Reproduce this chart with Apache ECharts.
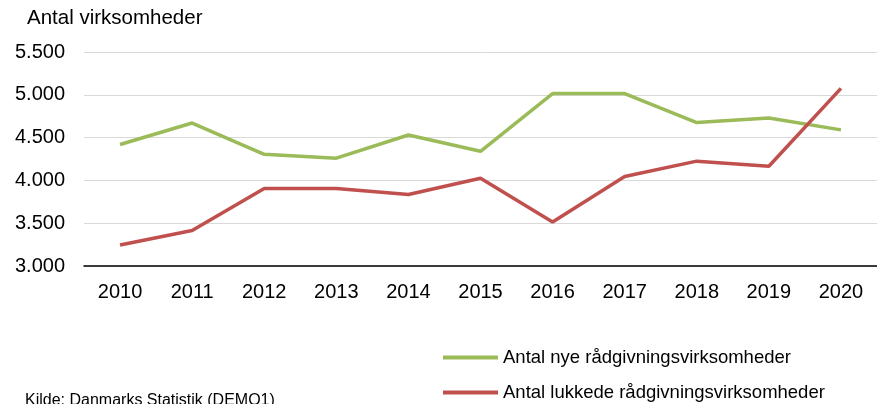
<!DOCTYPE html>
<html>
<head>
<meta charset="utf-8">
<script src="https://cdn.jsdelivr.net/npm/echarts@6/dist/echarts.min.js"></script>
<style>
    html, body { margin: 0; padding: 0; background: #fff; }
    #main { width: 877px; height: 404px; }
</style>
</head>
<body>
<div id="main"></div>
<script>
// data
var years = ['2010', '2011', '2012', '2013', '2014', '2015', '2016', '2017', '2018', '2019', '2020'];
var nye = [4420, 4670, 4305, 4260, 4530, 4340, 5015, 5015, 4675, 4730, 4590];
var lukkede = [3245, 3415, 3905, 3905, 3835, 4025, 3515, 4045, 4225, 4165, 5075];
var seriesNames = ['Antal nye rådgivningsvirksomheder', 'Antal lukkede rådgivningsvirksomheder'];

var chartDom = document.getElementById('main');
var myChart = echarts.init(chartDom);
var font = 'Liberation Sans, Arial, sans-serif';
var option;

// one legend per row so they stack like the original
function legendRow(name, top) {
    return {
        left: 443,
        top: top,
        padding: 0,
        itemWidth: 55,
        itemHeight: 4,
        icon: 'rect',
        textStyle: { fontSize: 18.5, color: '#000', fontFamily: font },
        data: [name]
    };
}

option = {
    animation: false,
    textStyle: { fontFamily: font },
    grid: {
        left: 84,
        right: -1,
        top: 52,
        bottom: 138
    },
    legend: [
        legendRow(seriesNames[0], 348),
        legendRow(seriesNames[1], 383)
    ],
    graphic: [
        {
            type: 'text',
            left: 27,
            top: 8,
            style: { text: 'Antal virksomheder', fontSize: 20.5, fill: '#000', fontFamily: font }
        },
        {
            type: 'text',
            left: 25,
            top: 393,
            style: { text: 'Kilde: Danmarks Statistik (DEMO1)', fontSize: 16, fill: '#000', fontFamily: font }
        }
    ],
    xAxis: {
        type: 'category',
        data: years,
        boundaryGap: true,
        axisLine: { lineStyle: { color: '#000', width: 1.5 } },
        axisTick: { show: false },
        axisLabel: { color: '#000', fontSize: 20, margin: 16, fontFamily: font }
    },
    yAxis: {
        type: 'value',
        min: 3000,
        max: 5500,
        interval: 500,
        axisLine: { show: false },
        axisTick: { show: false },
        splitLine: { lineStyle: { color: '#d9d9d9', width: 1 } },
        axisLabel: {
            color: '#000',
            fontSize: 20,
            margin: 19,
            fontFamily: font,
            formatter: function (v) {
                return v.toString().replace(/\B(?=(\d{3})+(?!\d))/g, '.');
            }
        }
    },
    series: [
        {
            name: seriesNames[0],
            type: 'line',
            data: nye,
            symbol: 'none',
            lineStyle: { color: '#9bbb59', width: 3.5 },
            itemStyle: { color: '#9bbb59' }
        },
        {
            name: seriesNames[1],
            type: 'line',
            data: lukkede,
            symbol: 'none',
            lineStyle: { color: '#c0504d', width: 3.5 },
            itemStyle: { color: '#c0504d' }
        }
    ]
};

option && myChart.setOption(option);
</script>
</body>
</html>
